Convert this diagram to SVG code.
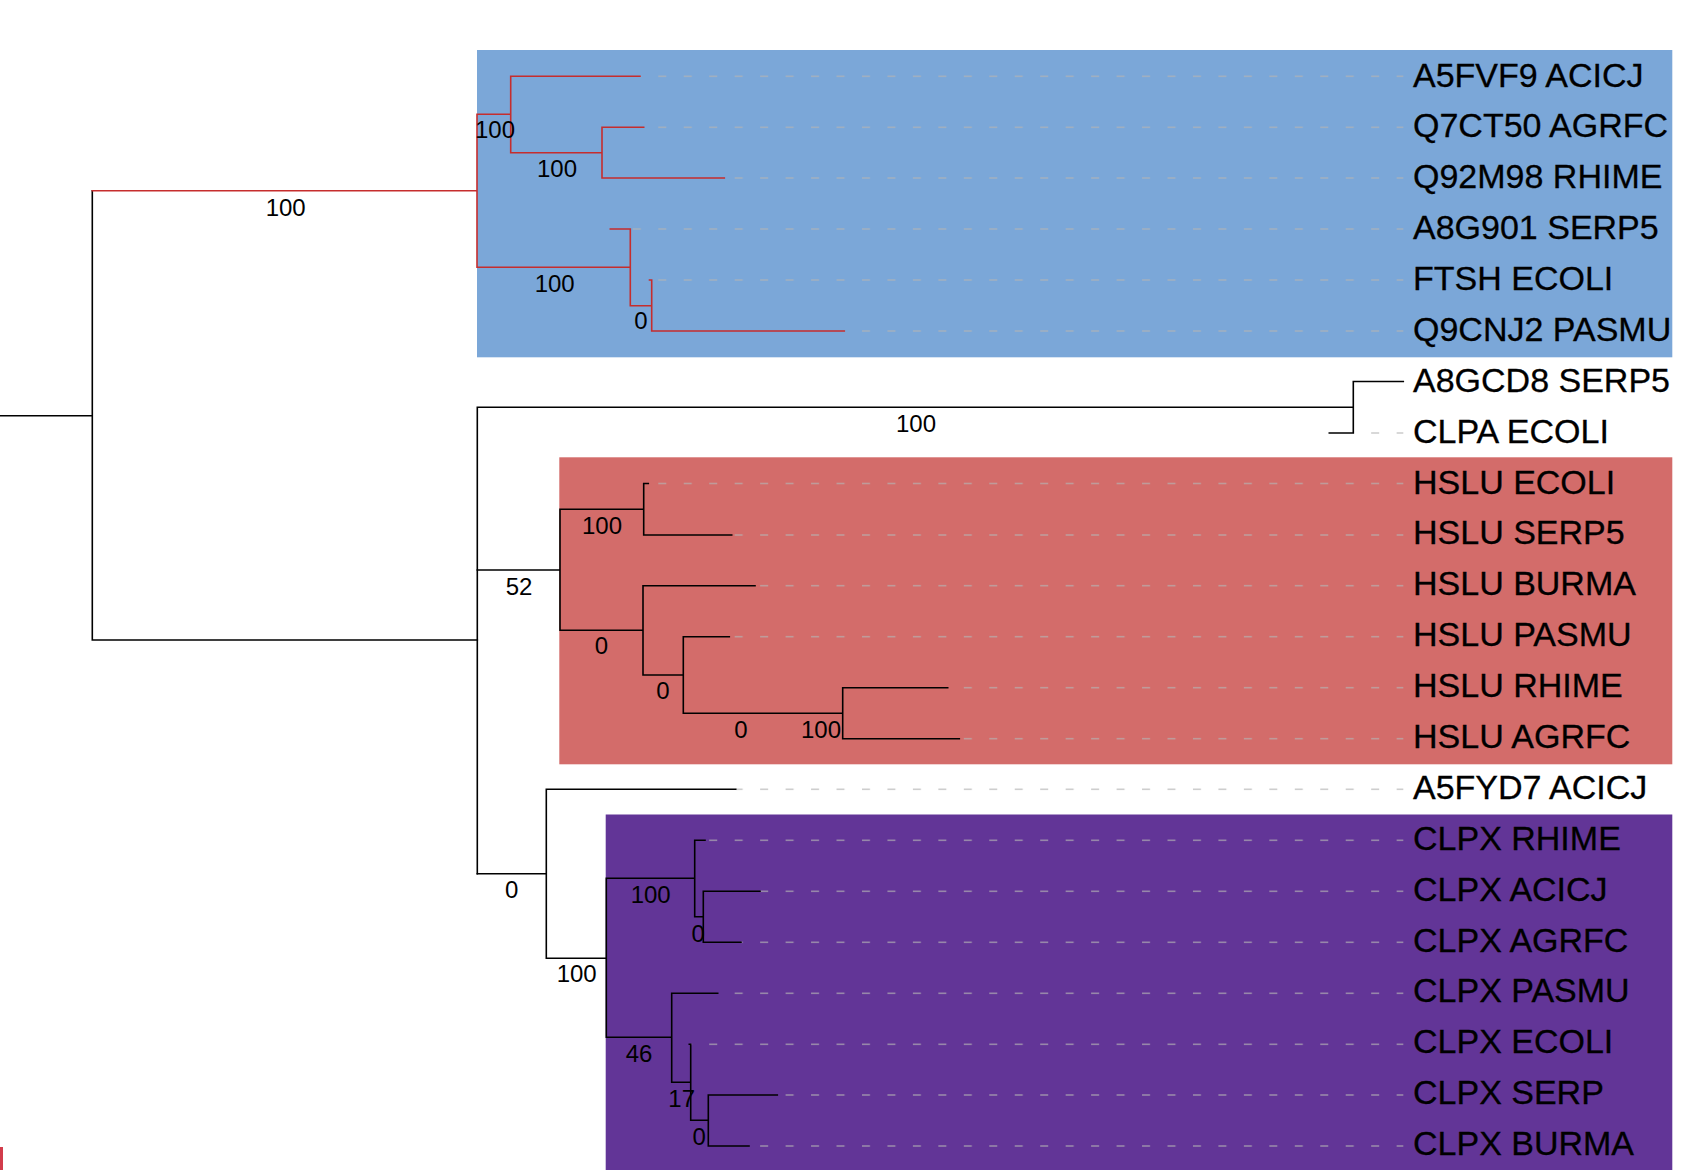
<svg xmlns="http://www.w3.org/2000/svg" width="1695" height="1170" viewBox="0 0 1695 1170">
  <style>
    .br { fill: none; stroke: #000; stroke-width: 1.6; stroke-linecap: square; }
    .red { stroke: #c62d2d; }
    .leaf { font-family: "Liberation Sans", Arial, sans-serif; font-size: 34px; fill: #000; stroke: #000; stroke-width: 0.3; }
    .sup { font-family: "Liberation Sans", Arial, sans-serif; font-size: 24px; fill: #000; text-anchor: middle; }
    .dash { fill: url(#dashpat); }
  </style>
  <defs>
    <pattern id="dashpat" patternUnits="userSpaceOnUse" x="21.8" y="0" width="25.46" height="20">
      <rect x="0" y="0" width="8" height="20" fill="#b4b4b4" fill-opacity="0.65"/>
    </pattern>
  </defs>
  <rect width="1695" height="1170" fill="#fff"/>

  <g id="highlights">
    <rect id="clade-blue" x="477" y="50" width="1195.3" height="307.3" fill="#7ba7d8"/>
    <rect id="clade-red" x="559.3" y="457.3" width="1113" height="307" fill="#d36c6a"/>
    <rect id="clade-purple" x="605.7" y="814.5" width="1066.6" height="356" fill="#623597"/>
  </g>

  <g id="guides">
    <rect class="dash" x="640" y="75.5" width="763.3" height="1.6"/>
    <rect class="dash" x="643.7" y="126.5" width="759.6" height="1.6"/>
    <rect class="dash" x="724.3" y="177.2" width="679" height="1.6"/>
    <rect class="dash" x="630.3" y="228.2" width="773" height="1.6"/>
    <rect class="dash" x="651.7" y="279.2" width="751.6" height="1.6"/>
    <rect class="dash" x="844.3" y="330.2" width="559" height="1.6"/>
    <rect class="dash" x="1353.3" y="432.2" width="50" height="1.6"/>
    <rect class="dash" x="648.3" y="482.7" width="755" height="1.6"/>
    <rect class="dash" x="731.7" y="534.2" width="671.6" height="1.6"/>
    <rect class="dash" x="755" y="584.9" width="648.3" height="1.6"/>
    <rect class="dash" x="729.3" y="635.9" width="674" height="1.6"/>
    <rect class="dash" x="947.7" y="686.9" width="455.6" height="1.6"/>
    <rect class="dash" x="959.3" y="737.9" width="444" height="1.6"/>
    <rect class="dash" x="735.7" y="788.5" width="667.6" height="1.6"/>
    <rect class="dash" x="705" y="839.5" width="698.3" height="1.6"/>
    <rect class="dash" x="760" y="890.5" width="643.3" height="1.6"/>
    <rect class="dash" x="741" y="941.5" width="662.3" height="1.6"/>
    <rect class="dash" x="717.7" y="992.5" width="685.6" height="1.6"/>
    <rect class="dash" x="691.3" y="1043.5" width="712" height="1.6"/>
    <rect class="dash" x="777.3" y="1094.2" width="626" height="1.6"/>
    <rect class="dash" x="749" y="1145.2" width="654.3" height="1.6"/>
  </g>

  <g id="connectors">
    <!-- root -->
    <path class="br" d="M0,415.7 H92.3 M92.3,190.7 V640 M92.3,640 H477.3"/>
    <!-- red clade -->
    <path class="br red" d="M92.3,190.7 H477 M477,114.3 V267.3 M477,114.3 H510.7 M510.7,76.3 V152.7 M510.7,76.3 H640 M510.7,152.7 H602 M602,127.3 V178 M602,127.3 H643.7 M602,178 H724.3 M477,267.3 H630.3 M630.3,229 V305.7 M610.3,229 H630.3 M630.3,305.7 H651.7 M651.7,280 V331 M649.5,280 H651.7 M651.7,331 H844.3"/>
    <!-- lower big clade -->
    <path class="br" d="M477.3,407.3 V873.7 M477.3,407.3 H1353.3 M1353.3,381.5 V433 M1353.3,381.5 H1403.3 M1329.3,433 H1353.3"/>
    <!-- HSLU clade -->
    <path class="br" d="M477.3,570 H560 M560,509.3 V630.3 M560,509.3 H643.7 M643.7,483.5 V535 M643.7,483.5 H648.3 M643.7,535 H731.7 M560,630.3 H643 M643,585.7 V675 M643,585.7 H755 M643,675 H683.3 M683.3,636.7 V713.3 M683.3,636.7 H729.3 M683.3,713.3 H842.7 M842.7,687.7 V738.7 M842.7,687.7 H947.7 M842.7,738.7 H959.3"/>
    <!-- CLPX clade -->
    <path class="br" d="M477.3,873.7 H546.3 M546.3,789.3 V958.3 M546.3,789.3 H735.7 M546.3,958.3 H606.3 M606.3,878.3 V1037.3 M606.3,878.3 H694.7 M694.7,840.3 V916.7 M694.7,840.3 H705 M694.7,916.7 H703.3 M703.3,891.3 V942.3 M703.3,891.3 H760 M703.3,942.3 H741 M606.3,1037.3 H671.7 M671.7,993.3 V1082.3 M671.7,993.3 H717.7 M671.7,1082.3 H690.7 M690.7,1044.3 V1120.3 M689.3,1044.3 H690.7 M690.7,1120.3 H708.3 M708.3,1095 V1146 M708.3,1095 H777.3 M708.3,1146 H749"/>
  </g>

  <g id="support-values">
    <text class="sup" x="285.7" y="215.7">100</text>
    <text class="sup" x="495" y="138">100</text>
    <text class="sup" x="557" y="176.7">100</text>
    <text class="sup" x="554.7" y="291.7">100</text>
    <text class="sup" x="641" y="329">0</text>
    <text class="sup" x="916" y="431.7">100</text>
    <text class="sup" x="519" y="594.5">52</text>
    <text class="sup" x="602" y="534">100</text>
    <text class="sup" x="601.5" y="654">0</text>
    <text class="sup" x="663" y="699">0</text>
    <text class="sup" x="741" y="737.5">0</text>
    <text class="sup" x="821" y="737.5">100</text>
    <text class="sup" x="511.7" y="898.3">0</text>
    <text class="sup" x="576.7" y="982.3">100</text>
    <text class="sup" x="650.7" y="902.7">100</text>
    <text class="sup" x="698.3" y="941.7">0</text>
    <text class="sup" x="639" y="1062.3">46</text>
    <text class="sup" x="681.7" y="1106.7">17</text>
    <text class="sup" x="699.3" y="1145">0</text>
  </g>

  <g id="leaf-A5FVF9_ACICJ"><text class="leaf" x="1413" y="86.5">A5FVF9 ACICJ</text></g>
  <g id="leaf-Q7CT50_AGRFC"><text class="leaf" x="1413" y="137.4">Q7CT50 AGRFC</text></g>
  <g id="leaf-Q92M98_RHIME"><text class="leaf" x="1413" y="188.3">Q92M98 RHIME</text></g>
  <g id="leaf-A8G901_SERP5"><text class="leaf" x="1413" y="239.1">A8G901 SERP5</text></g>
  <g id="leaf-FTSH_ECOLI"><text class="leaf" x="1413" y="290">FTSH ECOLI</text></g>
  <g id="leaf-Q9CNJ2_PASMU"><text class="leaf" x="1413" y="340.9">Q9CNJ2 PASMU</text></g>
  <g id="leaf-A8GCD8_SERP5"><text class="leaf" x="1413" y="391.8">A8GCD8 SERP5</text></g>
  <g id="leaf-CLPA_ECOLI"><text class="leaf" x="1413" y="442.7">CLPA ECOLI</text></g>
  <g id="leaf-HSLU_ECOLI"><text class="leaf" x="1413" y="493.5">HSLU ECOLI</text></g>
  <g id="leaf-HSLU_SERP5"><text class="leaf" x="1413" y="544.4">HSLU SERP5</text></g>
  <g id="leaf-HSLU_BURMA"><text class="leaf" x="1413" y="595.3">HSLU BURMA</text></g>
  <g id="leaf-HSLU_PASMU"><text class="leaf" x="1413" y="646.2">HSLU PASMU</text></g>
  <g id="leaf-HSLU_RHIME"><text class="leaf" x="1413" y="697.1">HSLU RHIME</text></g>
  <g id="leaf-HSLU_AGRFC"><text class="leaf" x="1413" y="747.9">HSLU AGRFC</text></g>
  <g id="leaf-A5FYD7_ACICJ"><text class="leaf" x="1413" y="798.8">A5FYD7 ACICJ</text></g>
  <g id="leaf-CLPX_RHIME"><text class="leaf" x="1413" y="849.7">CLPX RHIME</text></g>
  <g id="leaf-CLPX_ACICJ"><text class="leaf" x="1413" y="900.6">CLPX ACICJ</text></g>
  <g id="leaf-CLPX_AGRFC"><text class="leaf" x="1413" y="951.5">CLPX AGRFC</text></g>
  <g id="leaf-CLPX_PASMU"><text class="leaf" x="1413" y="1002.3">CLPX PASMU</text></g>
  <g id="leaf-CLPX_ECOLI"><text class="leaf" x="1413" y="1053.2">CLPX ECOLI</text></g>
  <g id="leaf-CLPX_SERP"><text class="leaf" x="1413" y="1104.1">CLPX SERP</text></g>
  <g id="leaf-CLPX_BURMA"><text class="leaf" x="1413" y="1155">CLPX BURMA</text></g>

  <rect x="0" y="1147" width="3" height="23" fill="#d23c4b"/>
</svg>
